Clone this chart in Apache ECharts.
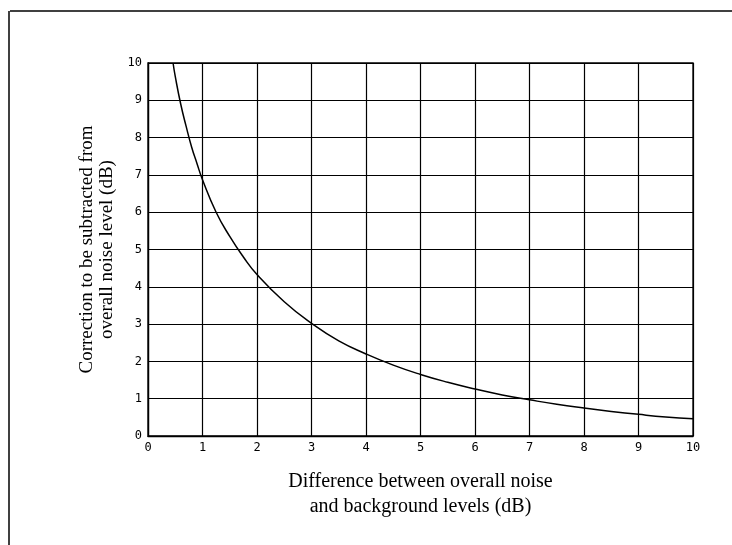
<!DOCTYPE html>
<html>
<head>
<meta charset="utf-8">
<script src="https://cdn.jsdelivr.net/npm/echarts@6/dist/echarts.min.js"></script>
<style>html,body{margin:0;padding:0;background:#fff}#c{width:732px;height:545px}</style>
</head>
<body>
<div id="c"></div>
<script>
const diffDB = [0.46, 0.5, 0.6, 0.7, 0.8, 0.9, 1, 1.25, 1.5, 1.75, 2, 2.5, 3, 3.5, 4, 4.5, 5, 5.5, 6, 6.5, 7, 7.5, 8, 8.5, 9, 9.5, 10];
const correctionDB = [10, 9.64, 8.9, 8.3, 7.75, 7.3, 6.87, 6.0, 5.35, 4.8, 4.33, 3.6, 3.02, 2.55, 2.2, 1.9, 1.65, 1.44, 1.26, 1.1, 0.97, 0.85, 0.75, 0.66, 0.58, 0.51, 0.46];
const xTicks = [0,1,2,3,4,5,6,7,8,9,10];
const yTicks = [0,1,2,3,4,5,6,7,8,9,10];
const xTitle = ["Difference between overall noise", "and background levels (dB)"];
const yTitle = ["Correction to be subtracted from", "overall noise level (dB)"];

const chart = echarts.init(document.getElementById('c'), null, {renderer: 'canvas'});
const tickFont = {fontFamily: 'DejaVu Sans Mono', fontSize: 12, color: '#000'};
chart.setOption({
  backgroundColor: '#fff',
  animation: false,
  grid: {left: 148, right: 39, top: 63, bottom: 109, show: true, borderColor: '#000', borderWidth: 1.3},
  xAxis: {
    type: 'value', min: xTicks[0], max: xTicks[xTicks.length-1], interval: 1,
    axisLine: {show: true, lineStyle: {color: '#000', width: 1.3}},
    axisTick: {show: false},
    axisLabel: Object.assign({margin: 6}, tickFont),
    splitLine: {show: true, lineStyle: {color: '#000', width: 1.2}},
    name: xTitle.join('\n'), nameLocation: 'middle', nameGap: 33,
    nameTextStyle: {fontFamily: 'Liberation Serif', fontSize: 20, color: '#000', lineHeight: 25}
  },
  yAxis: {
    type: 'value', min: yTicks[0], max: yTicks[yTicks.length-1], interval: 1,
    axisLine: {show: true, lineStyle: {color: '#000', width: 1.3}},
    axisTick: {show: false},
    axisLabel: Object.assign({margin: 6}, tickFont),
    splitLine: {show: true, lineStyle: {color: '#000', width: 1.2}},
    name: yTitle.join('\n'), nameLocation: 'middle', nameGap: 29,
    nameTextStyle: {fontFamily: 'Liberation Serif', fontSize: 19, color: '#000', lineHeight: 20}
  },
  series: [{
    type: 'line', smooth: true, showSymbol: false,
    data: diffDB.map((d, i) => [d, correctionDB[i]]),
    lineStyle: {color: '#000', width: 1.5}
  }],
  graphic: [
    {type: 'line', shape: {x1: 10, y1: 11, x2: 732, y2: 11}, style: {stroke: '#000', lineWidth: 1.5}},
    {type: 'line', shape: {x1: 9, y1: 11, x2: 9, y2: 545}, style: {stroke: '#000', lineWidth: 1.5}}
  ]
});
</script>
</body>
</html>
